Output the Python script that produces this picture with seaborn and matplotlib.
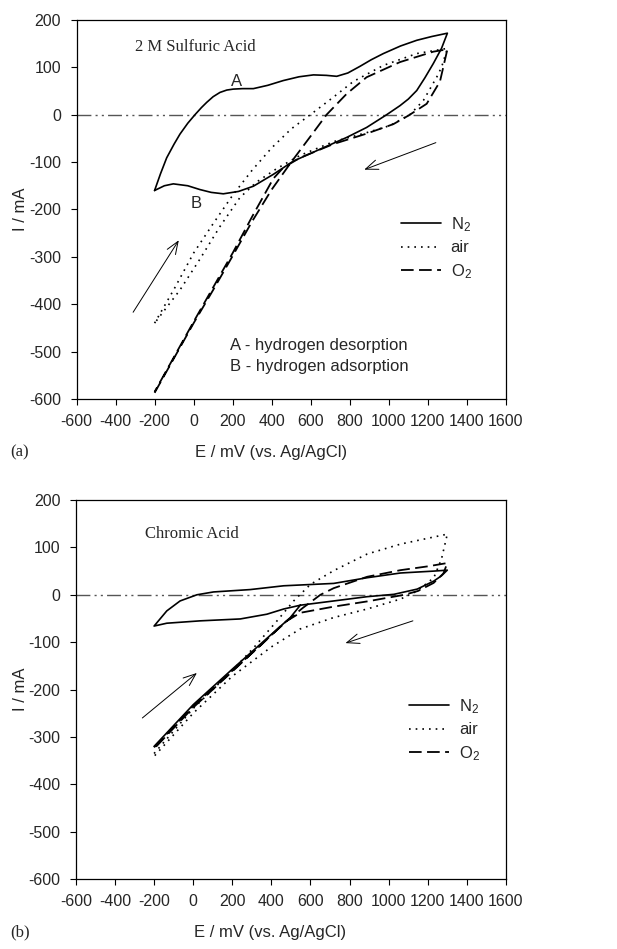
import matplotlib
matplotlib.use("Agg")
import matplotlib.pyplot as plt
import seaborn as sns
import pandas as pd
from matplotlib.lines import Line2D

# ---------------- data: panel (a) 2 M sulfuric acid ----------------
a_n2_E = [-200, -170, -138, -100, -70, -30, 7, 40, 67, 100, 135, 170, 203, 250, 306, 380,
          459, 540, 614, 680, 733, 790, 852, 910, 972, 1060, 1143, 1220, 1300,
          1270, 1228, 1185, 1143, 1100, 1057, 989, 886, 784, 647, 511, 408, 306, 230,
          152, 90, 32, -30, -104, -150, -200]
a_n2_I = [-160, -125, -91, -62, -41, -18, 0, 15, 26, 38, 47, 52, 54, 55, 55, 62,
          72, 80, 84, 83, 81, 88, 102, 116, 129, 145, 157, 165, 172,
          140, 108, 78, 51, 33, 19, 0, -27, -48, -73, -98, -126, -151, -162,
          -167, -164, -158, -150, -146, -150, -160]

a_air_E = [-200, -100, 0, 100, 200, 300, 400, 500, 614, 716, 818, 972, 1143, 1300,
           1270, 1245, 1177, 1108, 1006, 886, 716, 545, 425, 323, 237, 135, 32, -70, -200]
a_air_I = [-440, -368, -292, -230, -170, -117, -70, -30, 5, 37, 70, 104, 129, 140,
           100, 79, 30, 0, -23, -38, -57, -86, -114, -142, -175, -236, -305, -370, -440]

a_o2_E = [-200, 0, 100, 200, 300, 400, 500, 600, 681, 784, 886, 1057, 1228, 1300,
          1262, 1194, 1100, 1023, 886, 716, 545, 459, 408, 300, 200, 0, -200]
a_o2_I = [-587, -440, -370, -298, -225, -158, -100, -45, 0, 44, 79, 111, 133, 138,
          70, 23, -2, -20, -40, -62, -91, -112, -135, -215, -292, -437, -585]

# ---------------- data: panel (b) chromic acid ----------------
b_n2_E = [-200, 0, 200, 377, 497, 548, 719, 890, 1027, 1146, 1231, 1270, 1300,
          1231, 1061, 890, 719, 463, 292, 104, 19, -67, -135, -200,
          -135, 36, 241, 377, 463, 548]
b_n2_I = [-320, -232, -157, -92, -48, -22, -13, -4, 1, 12, 29, 40, 52,
          50, 46, 36, 24, 19, 11, 6, 0, -13, -34, -66,
          -60, -55, -51, -41, -30, -22]

b_air_E = [-200, 0, 200, 309, 429, 514, 600, 719, 890, 1061, 1300,
           1270, 1231, 1146, 1061, 890, 719, 548, 400, 200, 0, -200]
b_air_I = [-335, -240, -160, -112, -55, -13, 22, 51, 86, 107, 128,
           75, 36, 8, -9, -30, -48, -72, -110, -172, -250, -341]

b_o2_E = [-200, 0, 200, 350, 450, 560, 651, 719, 890, 1061, 1200, 1300,
          1280, 1230, 1150, 1080, 890, 719, 548, 480, 446, 350, 200, 0, -200]
b_o2_I = [-322, -235, -160, -105, -65, -28, 0, 14, 38, 52, 60, 67,
          45, 25, 8, 0, -14, -25, -38, -55, -68, -104, -162, -238, -325]

x_ticks = list(range(-600, 1601, 200))
y_ticks = list(range(-600, 201, 100))
legend_labels = ["N$_2$", "air", "O$_2$"]

# ---------------- style ----------------
sns.set_style("ticks")
plt.rcParams["font.family"] = ["Liberation Sans", "DejaVu Sans"]
plt.rcParams["mathtext.default"] = "regular"
plt.rcParams["axes.unicode_minus"] = False

fig = plt.figure(figsize=(6.17, 9.49), dpi=100)
ax_a = fig.add_axes([0.124, 0.5796, 0.696, 0.3994])
ax_b = fig.add_axes([0.123, 0.0737, 0.697, 0.3994])

styles = {
    "N2": dict(linestyle="-", lw=1.2),
    "air": dict(linestyle=(0, (1, 3)), lw=1.2),
    "O2": dict(linestyle=(0, (7, 3)), lw=1.3),
}


def draw(ax, series):
    for key, (E, I) in series.items():
        df = pd.DataFrame({"E": E, "I": I})
        sns.lineplot(data=df, x="E", y="I", sort=False, estimator=None, ax=ax,
                     color="black", **styles[key])
    ax.axhline(0, color="#555555", lw=1.0, linestyle=(0, (10, 3, 1.5, 3, 1.5, 3)), zorder=0)
    ax.set_xlim(-600, 1600)
    ax.set_ylim(-600, 200)
    ax.set_xticks(x_ticks)
    ax.set_yticks(y_ticks)
    ax.set_xticklabels([str(v) for v in x_ticks], fontsize=11.5)
    ax.set_yticklabels([str(v) for v in y_ticks], fontsize=11.5)
    ax.tick_params(direction="out", length=4, width=0.8, color="black", pad=7)
    for s in ax.spines.values():
        s.set_visible(True)
        s.set_color("black")
        s.set_linewidth(0.9)
    ax.set_xlabel("E / mV (vs. Ag/AgCl)", fontsize=12, labelpad=8)
    ax.xaxis.set_label_coords(0.452, -0.122)
    ax.set_ylabel("I / mA", fontsize=12, labelpad=6)
    ax.yaxis.set_label_coords(-0.112, 0.5)
    handles = [Line2D([], [], color="black", **styles[k]) for k in ["N2", "air", "O2"]]
    return handles


h = draw(ax_a, {"N2": (a_n2_E, a_n2_I), "air": (a_air_E, a_air_I), "O2": (a_o2_E, a_o2_I)})
ax_a.legend(h, legend_labels, loc="upper left", bbox_to_anchor=(0.755, 0.485),
            frameon=False, fontsize=12, handlelength=2.4, handletextpad=0.6,
            labelspacing=0.4, borderpad=0, borderaxespad=0)

h = draw(ax_b, {"N2": (b_n2_E, b_n2_I), "air": (b_air_E, b_air_I), "O2": (b_o2_E, b_o2_I)})
ax_b.legend(h, legend_labels, loc="upper left", bbox_to_anchor=(0.775, 0.48),
            frameon=False, fontsize=12, handlelength=2.4, handletextpad=0.6,
            labelspacing=0.4, borderpad=0, borderaxespad=0)

serif = ["Liberation Serif", "DejaVu Serif"]
ax_a.text(-300, 143, "2 M Sulfuric Acid", family=serif, fontsize=12, va="center")
ax_a.text(220, 69, "A", fontsize=12, ha="center", va="center")
ax_a.text(15, -187, "B", fontsize=12, ha="center", va="center")
ax_a.text(186, -487, "A - hydrogen desorption", fontsize=12, va="center")
ax_a.text(186, -532, "B - hydrogen adsorption", fontsize=12, va="center")
ax_b.text(-246, 128, "Chromic Acid", family=serif, fontsize=12, va="center")

arrow = dict(arrowstyle="->,head_length=0.9,head_width=0.35", color="black", lw=0.7,
             shrinkA=0, shrinkB=0)
ax_a.annotate("", xy=(-76, -265), xytext=(-310, -417), arrowprops=arrow)
ax_a.annotate("", xy=(874, -116), xytext=(1241, -59), arrowprops=arrow)
ax_b.annotate("", xy=(19, -165), xytext=(-260, -260), arrowprops=arrow)
ax_b.annotate("", xy=(779, -102), xytext=(1124, -55), arrowprops=arrow)

fig.text(10 / 617, 1 - 452 / 949, "(a)", family=serif, fontsize=12, va="center")
fig.text(10 / 617, 1 - 932 / 949, "(b)", family=serif, fontsize=12, va="center")

fig.savefig("out.png", dpi=100)
